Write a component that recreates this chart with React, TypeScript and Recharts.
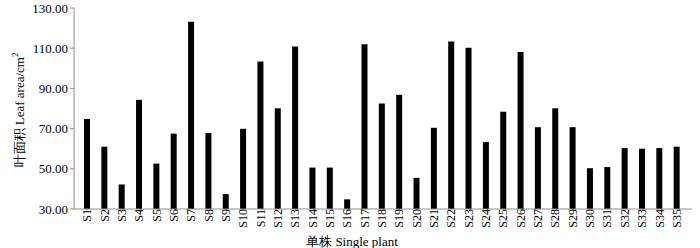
import React from 'react'
import { BarChart, Bar, XAxis, YAxis } from 'recharts'

const plants = [
  'S1', 'S2', 'S3', 'S4', 'S5', 'S6', 'S7', 'S8', 'S9', 'S10',
  'S11', 'S12', 'S13', 'S14', 'S15', 'S16', 'S17', 'S18', 'S19', 'S20',
  'S21', 'S22', 'S23', 'S24', 'S25', 'S26', 'S27', 'S28', 'S29', 'S30',
  'S31', 'S32', 'S33', 'S34', 'S35',
]
const leafArea = [
  74.8, 61.0, 42.2, 84.3, 52.6, 67.5, 123.2, 67.8, 37.4, 69.9,
  103.4, 80.1, 110.8, 50.6, 50.6, 34.8, 112.0, 82.5, 86.8, 45.5,
  70.4, 113.3, 110.2, 63.3, 78.4, 108.1, 70.7, 80.1, 70.7, 50.3,
  50.9, 60.3, 60.0, 60.3, 61.0,
]
const yTicks = [30, 50, 70, 90, 110, 130]

const data = plants.map((name, i) => ({ name, value: leafArea[i] }))

const FONT = 'Liberation Serif'
const AXIS = '#8c8c8c'

function YTitle() {
  return (
    <text
      x={0}
      y={0}
      transform="translate(24, 110) rotate(-90)"
      textAnchor="middle"
      fontFamily={FONT}
      fontSize={13}
      fill="#000"
    >
      叶面积  Leaf area/cm
      <tspan fontSize={9} dy={-6}>2</tspan>
    </text>
  )
}

function XTitle() {
  return (
    <text x={352} y={246} textAnchor="middle" fontFamily={FONT} fontSize={13} fill="#000">
      单株  Single plant
    </text>
  )
}

export default function App() {
  return (
    <div style={{ position: 'absolute', left: 0, top: 0, background: '#fff' }}>
      <BarChart
        width={700}
        height={248}
        data={data}
        margin={{ top: 8, right: 8, left: 0, bottom: 0 }}
        barCategoryGap={0}
      >
        <XAxis
          dataKey="name"
          interval={0}
          height={39}
          padding={{ left: 4, right: 7 }}
          axisLine={{ stroke: AXIS }}
          tickLine={false}
          angle={-90}
          textAnchor="end"
          dy={-8}
          dx={-4}
          tick={{ fontSize: 12, fill: '#000', fontFamily: FONT }}
          label={<XTitle />}
        />
        <YAxis
          domain={[30, 130]}
          ticks={yTicks}
          width={74}
          allowDataOverflow
          axisLine={{ stroke: AXIS }}
          tickLine={{ stroke: AXIS }}
          tickSize={4}
          tickFormatter={(v) => v.toFixed(2)}
          tick={{ fontSize: 13, fill: '#000', fontFamily: FONT }}
          label={<YTitle />}
        />
        <Bar dataKey="value" fill="#000" barSize={6} isAnimationActive={false} />
      </BarChart>
    </div>
  )
}
